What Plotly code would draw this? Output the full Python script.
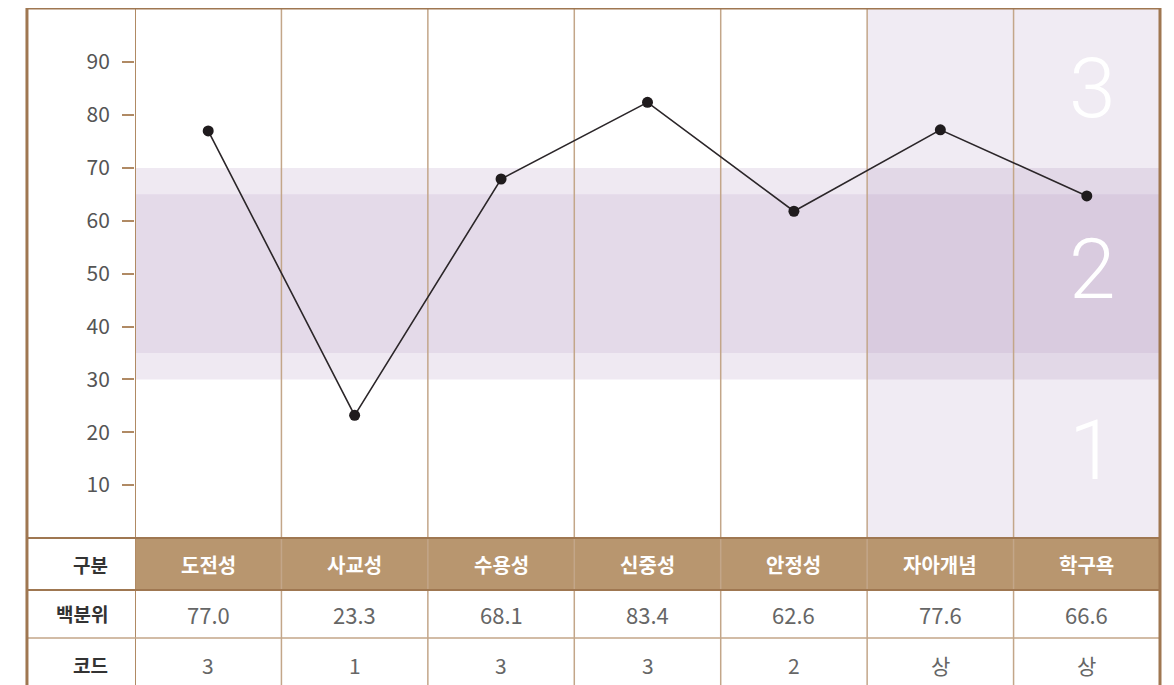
import plotly.graph_objects as go

categories = ["도전성", "사교성", "수용성", "신중성", "안정성", "자아개념", "학구욕"]
plotted_values = [77.0, 23.2, 67.9, 82.4, 61.8, 77.2, 64.7]
percentile_labels = ["77.0", "23.3", "68.1", "83.4", "62.6", "77.6", "66.6"]
code_labels = ["3", "1", "3", "3", "2", "상", "상"]
row_labels = ["구분", "백분위", "코드"]
y_ticks = [10, 20, 30, 40, 50, 60, 70, 80, 90]
level_labels = ["3", "2", "1"]
level_positions = [85, 50.7, 16.6]

FONT = "Noto Sans CJK KR"
BROWN_DARK = "#9f7751"
BROWN_LINE = "#c3a689"
HEADER_FILL = "#b8966f"

n = len(categories)
xs = list(range(n))

Y_TOP = 100.24
Y_BOT = -27.8
ROW1 = -9.83
ROW2 = -18.9
LEFT_PAPER = -0.1054

fig = go.Figure()

shapes = []
shapes.append(dict(type="rect", xref="x", yref="y", x0=4.5, x1=6.5, y0=0, y1=Y_TOP,
                   fillcolor="rgba(150,110,170,0.14)", line_width=0, layer="below"))
shapes.append(dict(type="rect", xref="x", yref="y", x0=-0.5, x1=6.5, y0=30, y1=70,
                   fillcolor="rgba(150,110,170,0.152)", line_width=0, layer="below"))
shapes.append(dict(type="rect", xref="x", yref="y", x0=-0.5, x1=6.5, y0=35, y1=65,
                   fillcolor="rgba(150,110,170,0.116)", line_width=0, layer="below"))
shapes.append(dict(type="rect", xref="x", yref="y", x0=-0.5, x1=6.5, y0=ROW1, y1=0,
                   fillcolor=HEADER_FILL, line_width=0, layer="below"))
for b in range(n - 1):
    shapes.append(dict(type="line", xref="x", yref="y", x0=b + 0.5, x1=b + 0.5, y0=Y_BOT, y1=Y_TOP,
                       line=dict(color=BROWN_LINE, width=1.5), layer="below"))
shapes.append(dict(type="line", xref="x", yref="y", x0=-0.5, x1=-0.5, y0=Y_BOT, y1=Y_TOP,
                   line=dict(color="#b08a64", width=2), layer="below"))
shapes.append(dict(type="line", xref="paper", yref="y", x0=LEFT_PAPER, x1=1, y0=0, y1=0,
                   line=dict(color=BROWN_DARK, width=2)))
shapes.append(dict(type="line", xref="paper", yref="y", x0=LEFT_PAPER, x1=1, y0=ROW1, y1=ROW1,
                   line=dict(color=BROWN_DARK, width=2)))
shapes.append(dict(type="line", xref="paper", yref="y", x0=LEFT_PAPER, x1=1, y0=ROW2, y1=ROW2,
                   line=dict(color=BROWN_LINE, width=1.5)))
shapes.append(dict(type="rect", xref="paper", yref="paper", x0=LEFT_PAPER, x1=1, y0=-0.02, y1=1,
                   fillcolor="rgba(0,0,0,0)", line=dict(color=BROWN_DARK, width=3)))

fig.add_trace(go.Scatter(
    x=xs, y=plotted_values, mode="lines+markers",
    line=dict(color="#2b2629", width=1.6),
    marker=dict(color="#1f1b1d", size=11),
    hoverinfo="skip", showlegend=False, cliponaxis=False,
))

annotations = []
row_ys = [ROW1 / 2, (ROW1 + ROW2) / 2, -24.0]
for i, c in enumerate(categories):
    annotations.append(dict(x=i, y=row_ys[0], xref="x", yref="y", text=c, showarrow=False,
                            font=dict(family=FONT, size=20, color="white", weight="bold")))
    annotations.append(dict(x=i, y=row_ys[1], xref="x", yref="y", text=percentile_labels[i],
                            showarrow=False, font=dict(family=FONT, size=22, color="#666666")))
    annotations.append(dict(x=i, y=row_ys[2], xref="x", yref="y", text=code_labels[i],
                            showarrow=False, font=dict(family=FONT, size=21, color="#666666")))
for lab, ry in zip(row_labels, row_ys):
    annotations.append(dict(x=-0.0244, y=ry, xref="paper", yref="y", text=lab, showarrow=False,
                            xanchor="right", font=dict(family=FONT, size=19, color="#333333", weight="bold")))
for lab, ly in zip(level_labels, level_positions):
    annotations.append(dict(x=6.04, y=ly, xref="x", yref="y", text=lab, showarrow=False,
                            font=dict(family="Roboto", size=84, color="white", weight=300)))

# page body has an 8px margin: shift figure up/left to compensate
fig.update_layout(
    width=1166, height=677,
    margin=dict(l=127, r=14, t=0, b=0),
    paper_bgcolor="white", plot_bgcolor="white",
    shapes=shapes, annotations=annotations,
    xaxis=dict(range=[-0.5, 6.5], showgrid=False, zeroline=False, showticklabels=False,
               ticks="", showline=False, fixedrange=True),
    yaxis=dict(range=[Y_BOT, Y_TOP], showgrid=False, zeroline=False, showline=False,
               tickvals=y_ticks, ticktext=[str(v) for v in y_ticks],
               ticks="outside", ticklen=12, tickcolor="#b08a64", tickwidth=1.5,
               ticklabelstandoff=8,
               tickfont=dict(family=FONT, size=21, color="#555555"), fixedrange=True),
    font=dict(family=FONT),
)

fig.write_html("out.html")
